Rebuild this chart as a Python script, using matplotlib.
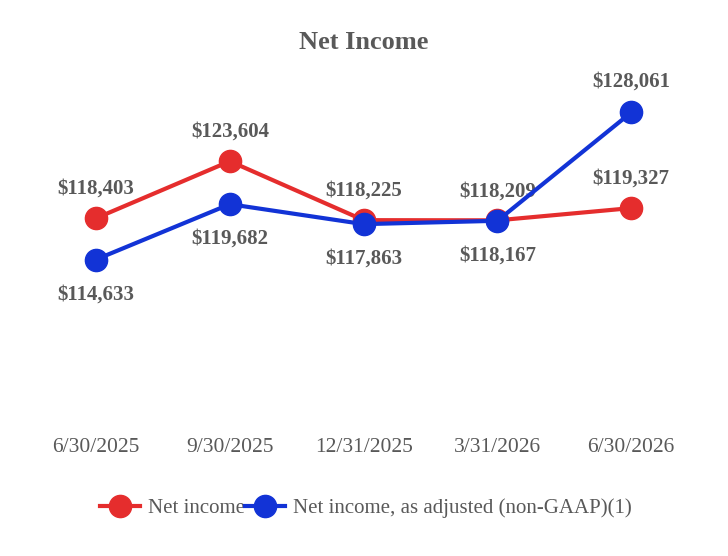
import matplotlib.pyplot as plt

plt.rcParams['font.family'] = ['Liberation Serif', 'DejaVu Serif']

# data
quarters = ['6/30/2025', '9/30/2025', '12/31/2025', '3/31/2026', '6/30/2026']
net_income = [118403, 123604, 118225, 118209, 119327]
net_income_adj = [114633, 119682, 117863, 118167, 128061]
series_names = ['Net income', 'Net income, as adjusted (non-GAAP)(1)']

red = '#E52D2D'
blue = '#1233D6'
grey = '#595959'

fig = plt.figure(figsize=(7.28, 5.56), dpi=100)
ax = fig.add_axes([0.04, 0.245, 0.919, 0.591])

x = list(range(len(quarters)))
ax.plot(x, net_income, color=red, lw=3, marker='o', ms=16, label=series_names[0], zorder=3)
ax.plot(x, net_income_adj, color=blue, lw=3, marker='o', ms=16, label=series_names[1], zorder=4)

# value labels: red above, blue below
for xi, v in zip(x, net_income):
    ax.annotate(f'${v:,}', (xi, v), xytext=(0, 21), textcoords='offset points',
                ha='center', va='center', fontsize=15, fontweight='bold', color=grey, zorder=1)
for xi, v in zip(x, net_income_adj):
    if v == max(net_income_adj):
        off = 22
    else:
        off = -25
    ax.annotate(f'${v:,}', (xi, v), xytext=(0, off), textcoords='offset points',
                ha='center', va='center', fontsize=15, fontweight='bold', color=grey, zorder=1)

ax.set_xlim(-0.5, 4.5)
ax.set_ylim(100000, 130000)
ax.set_xticks(x)
ax.set_xticklabels(quarters, fontsize=15.5, color=grey)
ax.tick_params(axis='x', length=0, pad=13)
ax.set_yticks([])
for s in ax.spines.values():
    s.set_visible(False)

fig.suptitle('Net Income', x=0.5, y=0.945, fontsize=19, fontweight='bold', color=grey)

fig.legend(loc='center', bbox_to_anchor=(0.503, 0.086), ncol=2, frameon=False,
           fontsize=15, labelcolor=grey, handlelength=1.9, handletextpad=0.4,
           columnspacing=0.0, markerscale=1.0)

fig.savefig('out.png', dpi=100)
